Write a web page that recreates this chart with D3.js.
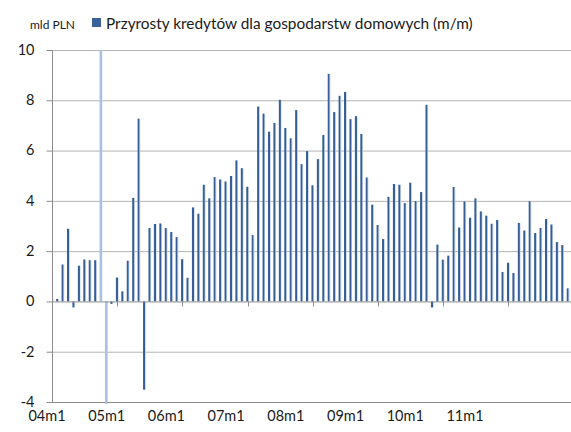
<!DOCTYPE html>
<html>
<head>
<meta charset="utf-8">
<script src="https://cdn.jsdelivr.net/npm/d3@7"></script>
<style>
  html, body { margin: 0; padding: 0; background: #fff; }
  svg { display: block; }
  text { font-family: Lato, "Liberation Sans", sans-serif; fill: #1a1a1a; }
</style>
</head>
<body>
<svg id="chart" width="571" height="432"></svg>
<script>
// Monthly categories 2004m1 .. 2011m12
const years = ["04", "05", "06", "07", "08", "09", "10", "11"];
const categories = [];
years.forEach(y => { for (let m = 1; m <= 12; m++) categories.push(y + "m" + m); });

// Monthly change in household loans, bn PLN
const values = [
  0.15, 0.10, 1.47, 2.89, -0.24, 1.42, 1.67, 1.64, 1.64, 10.8, -4.5, -0.10,
  0.95, 0.40, 1.62, 4.12, 7.27, -3.51, 2.92, 3.08, 3.10, 2.92, 2.76, 2.56,
  1.68, 0.94, 3.74, 3.49, 4.64, 4.10, 4.95, 4.85, 4.77, 4.99, 5.61, 5.30,
  4.56, 2.64, 7.75, 7.47, 6.75, 7.10, 8.02, 6.90, 6.49, 7.61, 5.46, 5.98,
  4.62, 5.66, 6.62, 9.05, 7.53, 8.18, 8.33, 7.25, 7.37, 6.66, 4.93, 3.85,
  3.04, 2.48, 4.16, 4.67, 4.64, 3.91, 4.72, 3.99, 4.35, 7.82, -0.24, 2.26,
  1.66, 1.82, 4.55, 2.94, 3.98, 3.33, 4.10, 3.58, 3.41, 3.09, 3.24, 1.17,
  1.54, 1.13, 3.12, 2.82, 3.99, 2.72, 2.92, 3.28, 3.06, 2.36, 2.24, 0.52
];

// Months shown in a lighter shade (off-scale movements)
const highlighted = ["04m10", "04m11"];

const yTicks = [-4, -2, 0, 2, 4, 6, 8, 10];
const xTickLabels = ["04m1", "05m1", "06m1", "07m1", "08m1", "09m1", "10m1", "11m1"];

const legendLabel = "Przyrosty kredytów dla gospodarstw domowych (m/m)";
const unitLabel = "mld PLN";

const svg = d3.select("#chart");
const W = 571;
const plot = { left: 52, right: 568, top: 50, bottom: 402 };

const x = d3.scalePoint().domain(categories).range([plot.left, plot.right]);
const y = d3.scaleLinear().domain([-4, 10]).range([plot.bottom, plot.top]);

// bar shading: dark body with a light right edge
const defs = svg.append("defs");
const grad = defs.append("linearGradient").attr("id", "barShade")
  .attr("x1", "0").attr("x2", "1").attr("y1", "0").attr("y2", "0");
grad.append("stop").attr("offset", "0").attr("stop-color", "#3a6298");
grad.append("stop").attr("offset", "0.62").attr("stop-color", "#355d95");
grad.append("stop").attr("offset", "0.7").attr("stop-color", "#8ea8cc");
grad.append("stop").attr("offset", "1").attr("stop-color", "#b7c8e0");

defs.append("clipPath").attr("id", "plotClip")
  .append("rect")
  .attr("x", plot.left).attr("y", plot.top)
  .attr("width", W - plot.left).attr("height", plot.bottom - plot.top + 2);

// horizontal gridlines
svg.append("g").selectAll("line")
  .data(yTicks.filter(t => t !== 0 && t !== -4))
  .join("line")
  .attr("x1", plot.left).attr("x2", W)
  .attr("y1", d => y(d) + 0.5).attr("y2", d => y(d) + 0.5)
  .attr("stroke", "#b4b4b4").attr("stroke-width", 1);

// bottom border of plot area
svg.append("line")
  .attr("x1", plot.left).attr("x2", W)
  .attr("y1", y(-4) + 0.5).attr("y2", y(-4) + 0.5)
  .attr("stroke", "#8c8c8c");

// bars
const barW = 2.6;
svg.append("g").attr("clip-path", "url(#plotClip)")
  .selectAll("rect")
  .data(categories.map((c, i) => ({ c, v: values[i] })))
  .join("rect")
  .attr("x", d => x(d.c) - barW / 2)
  .attr("width", barW)
  .attr("y", d => y(Math.max(0, d.v)))
  .attr("height", d => Math.abs(y(d.v) - y(0)))
  .attr("fill", d => highlighted.includes(d.c) ? "#a8c1e2" : "url(#barShade)");

// category axis at zero with yearly tick marks
svg.append("line")
  .attr("x1", plot.left).attr("x2", W)
  .attr("y1", y(0) + 0.5).attr("y2", y(0) + 0.5)
  .attr("stroke", "#8c8c8c");
svg.append("g").selectAll("line")
  .data(categories.filter(c => c.endsWith("m1")))
  .join("line")
  .attr("x1", d => Math.round(x(d)) + 0.5).attr("x2", d => Math.round(x(d)) + 0.5)
  .attr("y1", y(0)).attr("y2", y(0) + 5)
  .attr("stroke", "#8c8c8c");

// value axis
const yAxis = svg.append("g")
  .attr("transform", `translate(${plot.left + 0.5},0)`)
  .call(d3.axisLeft(y).tickValues(yTicks).tickSize(6).tickPadding(12).tickFormat(d3.format("d")));
yAxis.select(".domain").attr("stroke", "#8c8c8c").attr("d", `M0,${plot.top}V${plot.bottom + 0.5}`);
yAxis.selectAll(".tick line").attr("stroke", "#8c8c8c");
yAxis.selectAll(".tick text")
  .style("font-size", "14.5px").attr("fill", "#1a1a1a")
  .attr("dy", "0.3em")
  .text(d => d < 0 ? "-" + Math.abs(d) : d);

// category labels along the bottom
const xl = d3.scalePoint().domain(xTickLabels).range([47, 465]);
svg.append("g").selectAll("text")
  .data(xTickLabels)
  .join("text")
  .attr("x", d => xl(d))
  .attr("y", 421)
  .attr("text-anchor", "middle")
  .style("font-size", "14.5px")
  .text(d => d);

// unit label and legend
svg.append("text")
  .attr("x", 30).attr("y", 29)
  .style("font-size", "12px")
  .text(unitLabel);
svg.append("rect")
  .attr("x", 92).attr("y", 18).attr("width", 9).attr("height", 9)
  .attr("fill", "#3a6298");
const lg = svg.append("text")
  .attr("x", 106).attr("y", 29)
  .style("font-size", "16px")
  .text(legendLabel);
const len = lg.node().getComputedTextLength();
lg.style("font-size", (16 * 367 / len).toFixed(2) + "px");
</script>
</body>
</html>
